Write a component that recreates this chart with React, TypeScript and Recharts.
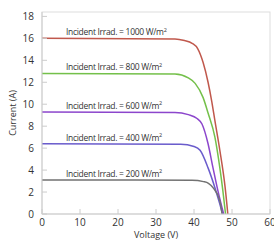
import React from "react";
import { LineChart, Line, XAxis, YAxis } from "recharts";

// I-V curves, voltage (V) vs current (A)
const v1000 = [0, 35, 37.5, 39.5, 41, 42.4, 43.7, 44.7, 45.5, 46.8, 48.2, 48.9];
const i1000 = [16.0, 15.95, 15.8, 15.55, 15.05, 13.8, 12.0, 10.2, 8.5, 5.8, 2.4, 0];

const v800 = [0, 35, 38.5, 40.3, 42.4, 43.7, 45.5, 46.8, 47.6, 48.3];
const i800 = [12.8, 12.75, 12.4, 11.9, 10.6, 9.2, 7.0, 4.2, 2.1, 0];

const v600 = [0, 35, 38.5, 40.8, 42.1, 43.7, 45.0, 46.3, 47.8];
const i600 = [9.3, 9.25, 9.05, 8.7, 8.2, 6.4, 4.2, 2.1, 0];

const v400 = [0, 36.5, 40, 41.6, 43.7, 45.5, 46.8, 47.5];
const i400 = [6.4, 6.35, 6.15, 5.8, 4.2, 2.4, 0.9, 0];

const v200 = [0, 39.5, 42.5, 43.8, 45.0, 46.8, 47.4];
const i200 = [3.1, 3.07, 2.95, 2.8, 2.4, 1.2, 0];

const xTicks = [0, 10, 20, 30, 40, 50, 60];
const yTicks = [0, 2, 4, 6, 8, 10, 12, 14, 16, 18];

const series = [
  { name: "1000", v: v1000, i: i1000, color: "#c0584c" },
  { name: "800", v: v800, i: i800, color: "#74c04a" },
  { name: "600", v: v600, i: i600, color: "#8c46cc" },
  { name: "400", v: v400, i: i400, color: "#6a5ccc" },
  { name: "200", v: v200, i: i200, color: "#727272" },
];

const toPoints = (v: number[], i: number[]) =>
  v.map((x, k) => ({ v: x, i: i[k] }));

const font = "'Open Sans', sans-serif";

const makeLabel = (irr: string) => (props: any) => {
  const { x, y, index } = props;
  if (index !== 0) return null;
  return (
    <text
      x={x + 24}
      y={y - 3}
      fontSize={8.5}
      fill="#333"
      fontFamily={font}
      letterSpacing={-0.3}
    >
      <tspan>{`Incident Irrad. = ${irr} W/m`}</tspan>
      <tspan dy={-3.5} fontSize={5.5}>
        2
      </tspan>
    </text>
  );
};

export default function App() {
  return (
    <div style={{ position: "absolute", left: 0, top: 0, background: "#fff" }}>
      <LineChart
        width={274}
        height={241}
        margin={{ top: 12, right: 4, bottom: 0, left: 0 }}
      >
        <rect x={42} y={12} width={228} height={202} fill="none" stroke="#ddd" />
        <XAxis
          type="number"
          dataKey="v"
          domain={[0, 60]}
          ticks={xTicks}
          allowDuplicatedCategory={false}
          height={27}
          stroke="#ccc"
          tickSize={-5}
          tickMargin={10}
          interval={0}
          tick={{ fontSize: 10, fill: "#333", fontFamily: font }}
          label={{
            value: "Voltage  (V)",
            position: "insideBottom",
            offset: 3,
            style: { fontSize: 9, fill: "#333", fontFamily: font },
          }}
        />
        <YAxis
          type="number"
          domain={[0, 18.4]}
          ticks={yTicks}
          width={42}
          stroke="#ccc"
          tickSize={-5}
          tickMargin={13}
          interval={0}
          tick={{ fontSize: 10, fill: "#333", fontFamily: font }}
          label={{
            value: "Current (A)",
            angle: -90,
            position: "insideLeft",
            offset: 13,
            style: {
              fontSize: 9,
              fill: "#333",
              fontFamily: font,
              textAnchor: "middle",
            },
          }}
        />
        {series.map((s) => (
          <Line
            key={s.name}
            data={toPoints(s.v, s.i)}
            dataKey="i"
            type="monotone"
            stroke={s.color}
            strokeWidth={1.5}
            dot={false}
            isAnimationActive={false}
            label={makeLabel(s.name)}
          />
        ))}
      </LineChart>
    </div>
  );
}
